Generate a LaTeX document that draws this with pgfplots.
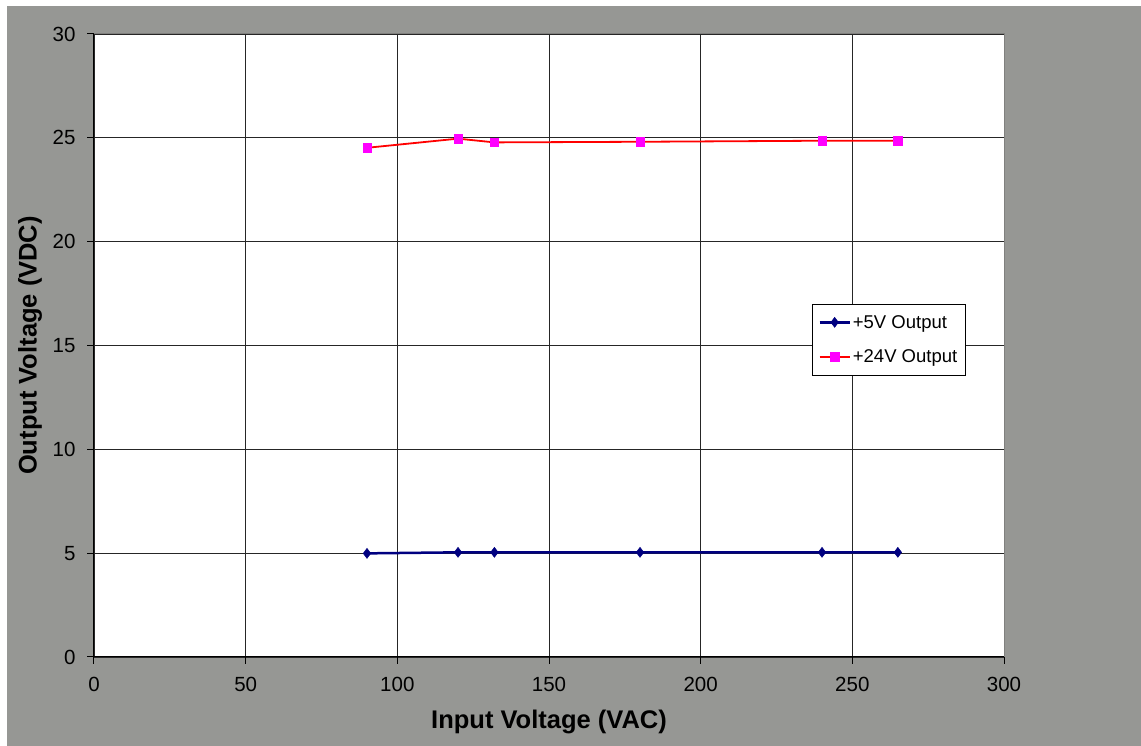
\documentclass[border=0pt]{standalone}
\usepackage{pgfplots}
\pgfplotsset{compat=1.18}
\usepackage{fontspec}
\setmainfont{Liberation Sans}
\definecolor{bgg}{RGB}{150,151,148}
\definecolor{navy5}{RGB}{0,0,128}
\definecolor{mag}{RGB}{255,0,255}
\begin{document}
\begin{tikzpicture}[x=1pt,y=1pt]
\useasboundingbox (0,0) rectangle (1141,746);
\fill[white] (0,0) rectangle (1141,746);
\fill[bgg] (7,0) rectangle (1141,740);
\begin{axis}[
  at={(94pt,89pt)}, anchor=south west,
  width=910pt, height=623pt, scale only axis,
  xmin=0, xmax=300, ymin=0, ymax=30,
  xtick={0,50,...,300}, ytick={0,5,...,30},
  axis background/.style={fill=white},
  axis x line*=bottom, axis y line*=left,
  axis line style={black, line width=1pt},
  grid=major,
  major grid style={black!85, line width=0.9pt},
  tick align=outside, major tick length=7pt,
  tick style={black, line width=1pt},
  /pgf/number format/assume math mode=true,
  ticklabel style={font=\fontsize{20.5}{24}\selectfont},
  xticklabel style={yshift=-10pt},
  yticklabel style={xshift=-8pt},
  xlabel={Input Voltage (VAC)},
  ylabel={Output Voltage (VDC)},
  every axis x label/.style={at={(axis description cs:0.5,0)}, yshift=-65pt, anchor=center, font=\bfseries\fontsize{25.5}{30}\selectfont},
  every axis y label/.style={at={(axis description cs:0,0.5)}, xshift=-64pt, rotate=90, anchor=center, font=\bfseries\fontsize{25.5}{30}\selectfont},
  legend style={at={(0.789,0.567)}, anchor=north west, draw=black, line width=0.8pt, fill=white,
    font=\fontsize{18.5}{22}\selectfont, inner xsep=6pt, inner ysep=9pt, row sep=16pt},
  legend cell align=left,
  legend image code/.code={\draw[mark repeat=2,mark phase=2] plot coordinates {(0pt,0pt)(15pt,0pt)(30pt,0pt)};},
  clip=false,
]
\addplot[navy5, line width=2.5pt, mark=diamond*, mark size=5pt, mark options={fill=navy5, draw=navy5, line width=0.5pt}]
  coordinates {(90,4.99) (120,5.04) (132,5.04) (180,5.04) (240,5.04) (265,5.04)};
\addlegendentry{+5V Output}
\addplot[red, line width=1.8pt, mark=square*, mark size=4.2pt, mark options={fill=mag, draw=mag, line width=0.5pt}]
  coordinates {(90,24.52) (120,24.96) (132,24.78) (180,24.81) (240,24.86) (265,24.86)};
\addlegendentry{+24V Output}
\draw[bgg!85!black, line width=1pt] (rel axis cs:0,1) -- (rel axis cs:1,1) -- (rel axis cs:1,0);
\end{axis}
\end{tikzpicture}
\end{document}
